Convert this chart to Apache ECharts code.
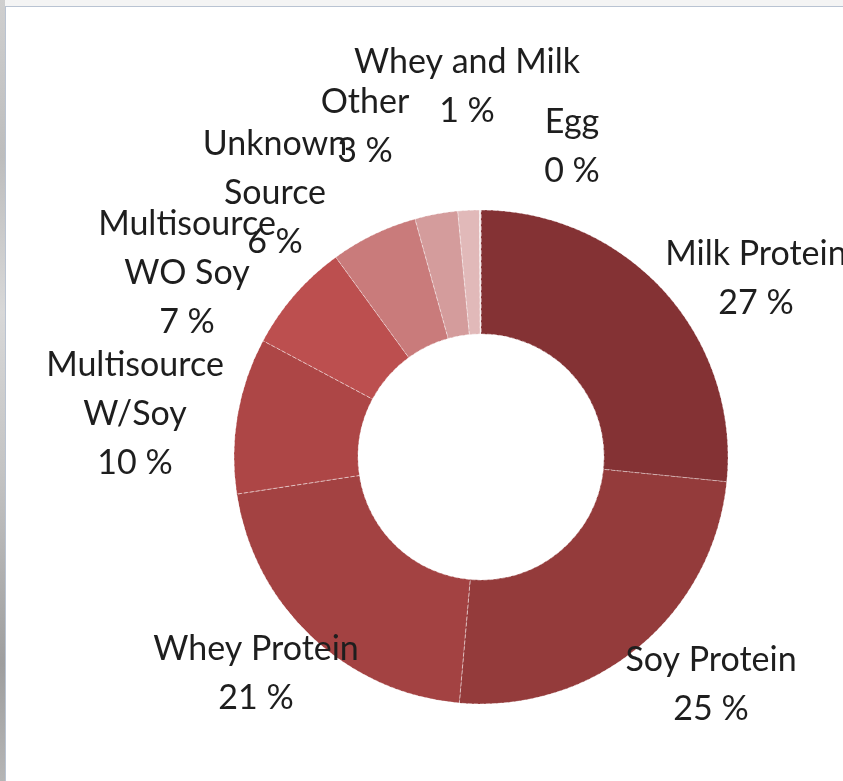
<!DOCTYPE html>
<html>
<head>
<meta charset="utf-8">
<script src="https://cdn.jsdelivr.net/npm/echarts@6/dist/echarts.min.js"></script>
<style>
  html, body { margin: 0; padding: 0; width: 843px; height: 781px; overflow: hidden; background: #f4f4f4; }
  #strip { position: absolute; left: 0; top: 0; width: 5px; height: 781px;
           background: linear-gradient(#cfcfcf, #bdbdbd 20%, #d8d8d8 40%, #c4c4c4 60%, #9e9e9e 85%, #b5b5b5); }
  #frame { position: absolute; left: 5px; top: 6px; width: 845px; height: 790px; background: #fff;
           border-top: 1px solid #b9c3d2; border-left: 1px solid #b9c3d2; }
  #chart { position: absolute; left: 0; top: 0; width: 843px; height: 781px; }
</style>
</head>
<body>
<div id="strip"></div>
<div id="frame"></div>
<div id="chart"></div>
<script>
// Data (percent share of each protein source)
const categories = ['Milk Protein', 'Soy Protein', 'Whey Protein', 'Multisource\nW/Soy',
                    'Multisource\nWO Soy', 'Unknown\nSource', 'Other', 'Whey and Milk', 'Egg'];
const values = [26.6, 24.8, 21.2, 10.2, 7.2, 5.7, 2.8, 1.4, 0.1];
const colors = ['#843234', '#943b3b', '#a34242', '#ad4646', '#bc4f4f', '#c97b7b', '#d49c9c', '#e1b9b9', '#f3e3e3'];
// Label anchor points (text block centres), as placed in the original
const labelAnchors = [[756, 279], [711, 685], [256, 674], [135, 414], [187, 273],
                      [275, 193], [365, 127], [467, 87], [572, 147]];

const total = values.reduce((a, b) => a + b, 0);
const chart = echarts.init(document.getElementById('chart'), null, { renderer: 'canvas' });
chart.setOption({
  backgroundColor: 'transparent',
  animation: false,
  series: [{
    type: 'pie',
    center: [481, 457],
    radius: [123, 247],
    startAngle: 90,
    clockwise: true,
    avoidLabelOverlap: false,
    data: categories.map((c, i) => ({ name: c, value: values[i], itemStyle: { color: colors[i] } })),
    itemStyle: { borderColor: 'rgba(255,255,255,0.45)', borderWidth: 1, borderType: 'dashed' },
    label: {
      show: true,
      position: 'outside',
      fontFamily: 'Lato',
      fontSize: 34,
      lineHeight: 49,
      color: '#1e1e1e',
      align: 'center',
      formatter: p => p.name + '\n' + Math.round(p.value / total * 100) + ' %'
    },
    labelLine: { show: false },
    labelLayout: p => ({
      x: labelAnchors[p.dataIndex][0],
      y: labelAnchors[p.dataIndex][1],
      align: 'center',
      verticalAlign: 'middle'
    })
  }]
});
</script>
</body>
</html>
